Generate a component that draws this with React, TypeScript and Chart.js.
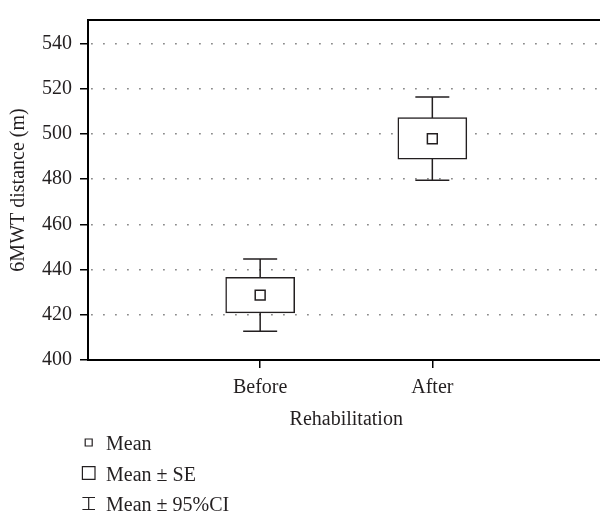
import { useEffect, useRef } from "react";
import { Chart, registerables } from "chart.js";

Chart.register(...registerables);

// ---- Data ----
const categories = ["Before", "After"];
const categoryPositions = [1, 2];
const meanValues = [428.7, 497.8];
const seLow = [420.8, 488.8];
const seHigh = [436.6, 507.2];
const ciLow = [412.7, 479.5];
const ciHigh = [444.7, 516.3];
const yTicks = [400, 420, 440, 460, 480, 500, 520, 540];
const legendLabels = ["Mean", "Mean ± SE", "Mean ± 95%CI"];
const yTitle = "6MWT distance (m)";
const xTitle = "Rehabilitation";

const INK = "#231f20";
const FONT_FAMILY = '"Liberation Serif", "Times New Roman", serif';
const FONT_SIZE = 20;

const whiskerPlugin = {
  id: "whiskers",
  beforeDatasetsDraw(chart: any) {
    const { ctx, chartArea } = chart;
    const xs = chart.scales.x;
    const ys = chart.scales.y;
    ctx.save();
    // top frame line
    ctx.strokeStyle = "#000";
    ctx.lineWidth = 2;
    ctx.beginPath();
    ctx.moveTo(chartArea.left - 1, chartArea.top);
    ctx.lineTo(chartArea.right, chartArea.top);
    ctx.stroke();
    // CI whiskers
    ctx.strokeStyle = INK;
    ctx.lineWidth = 1.5;
    const capHalf = 17;
    categoryPositions.forEach((p, i) => {
      const px = xs.getPixelForValue(p);
      const yl = ys.getPixelForValue(ciLow[i]);
      const yh = ys.getPixelForValue(ciHigh[i]);
      ctx.beginPath();
      ctx.moveTo(px, yl);
      ctx.lineTo(px, yh);
      ctx.moveTo(px - capHalf, yl);
      ctx.lineTo(px + capHalf, yl);
      ctx.moveTo(px - capHalf, yh);
      ctx.lineTo(px + capHalf, yh);
      ctx.stroke();
    });
    ctx.restore();
  },
};

const legendPlugin = {
  id: "customLegend",
  afterDraw(chart: any) {
    const { ctx, chartArea } = chart;
    ctx.save();
    ctx.font = `${FONT_SIZE}px ${FONT_FAMILY}`;
    ctx.fillStyle = INK;
    ctx.strokeStyle = INK;
    ctx.lineWidth = 1.2;
    ctx.textBaseline = "alphabetic";
    ctx.textAlign = "left";
    const iconX = chartArea.left + 0.7;
    const textX = chartArea.left + 18;
    legendLabels.forEach((label, i) => {
      const baseline = chartArea.bottom + 90 + i * 30.5;
      const cy = baseline - 7.5;
      ctx.beginPath();
      if (i === 0) {
        ctx.rect(iconX - 3.5, cy - 3.5, 7, 7);
      } else if (i === 1) {
        ctx.rect(iconX - 6.3, cy - 6.3, 12.6, 12.6);
      } else {
        ctx.moveTo(iconX - 6.3, cy - 6);
        ctx.lineTo(iconX + 6.3, cy - 6);
        ctx.moveTo(iconX, cy - 6);
        ctx.lineTo(iconX, cy + 6);
        ctx.moveTo(iconX - 6.3, cy + 6);
        ctx.lineTo(iconX + 6.3, cy + 6);
      }
      ctx.stroke();
      ctx.fillText(label, textX, baseline);
    });
    ctx.restore();
  },
};

export default function App() {
  const canvasRef = useRef<HTMLCanvasElement | null>(null);

  useEffect(() => {
    if (!canvasRef.current) return;
    const font = { family: FONT_FAMILY, size: FONT_SIZE };
    const chart = new Chart(canvasRef.current, {
      type: "bar",
      data: {
        datasets: [
          {
            type: "scatter",
            label: legendLabels[0],
            data: categoryPositions.map((p, i) => ({ x: p, y: meanValues[i] })),
            pointStyle: "rect",
            pointRadius: 7,
            backgroundColor: "#fff",
            borderColor: INK,
            borderWidth: 1.5,
            order: 0,
          } as any,
          {
            type: "bar",
            label: legendLabels[1],
            data: categoryPositions.map((p, i) => ({ x: p, y: [seLow[i], seHigh[i]] })),
            backgroundColor: "#fff",
            borderColor: INK,
            borderWidth: 1.5,
            borderSkipped: false,
            barThickness: 69,
            order: 1,
          } as any,
        ],
      },
      options: {
        animation: false,
        responsive: true,
        maintainAspectRatio: false,
        layout: { padding: { top: 14, left: 0, right: 0, bottom: 81 } },
        plugins: {
          legend: { display: false },
          tooltip: { enabled: false },
        },
        scales: {
          x: {
            type: "linear",
            min: 0,
            max: 3,
            offset: false,
            afterBuildTicks: (s: any) => {
              s.ticks = categoryPositions.map((v) => ({ value: v }));
            },
            afterFit: (s: any) => {
              s.height = 72;
            },
            ticks: {
              callback: (v: any) => {
                const idx = categoryPositions.indexOf(Number(v));
                return idx >= 0 ? categories[idx] : "";
              },
              font,
              color: INK,
              padding: 8,
              maxRotation: 0,
              autoSkip: false,
            },
            grid: {
              display: true,
              offset: false,
              drawOnChartArea: false,
              drawTicks: true,
              tickLength: 8,
              color: "#000",
              lineWidth: 1.5,
            },
            border: { display: true, color: "#000", width: 2 },
            title: {
              display: true,
              text: xTitle,
              font,
              color: INK,
              padding: { top: 0, bottom: 0 },
            },
          },
          y: {
            type: "linear",
            min: 400,
            max: 550.3,
            afterBuildTicks: (s: any) => {
              s.ticks = yTicks.map((v) => ({ value: v }));
            },
            afterFit: (s: any) => {
              s.width = 88;
            },
            ticks: {
              font,
              color: INK,
              padding: 8,
            },
            grid: {
              display: true,
              drawOnChartArea: true,
              drawTicks: true,
              tickLength: 8,
              color: "#8c8c8c",
              lineWidth: 1.5,
              tickColor: "#000",
              tickWidth: 1.5,
            },
            border: { display: true, color: "#000", width: 2, dash: [1.8, 10.2], dashOffset: -2 },
            title: {
              display: true,
              text: yTitle,
              font,
              color: INK,
              padding: { top: 7, bottom: 0 },
            },
          },
        },
      } as any,
      plugins: [whiskerPlugin, legendPlugin],
    });
    return () => chart.destroy();
  }, []);

  return (
    <div
      style={{
        position: "fixed",
        left: 0,
        top: 0,
        width: 600,
        height: 513,
        overflow: "hidden",
        background: "#fff",
      }}
    >
      <div style={{ position: "relative", width: 613, height: 513 }}>
        <canvas ref={canvasRef} />
      </div>
    </div>
  );
}
